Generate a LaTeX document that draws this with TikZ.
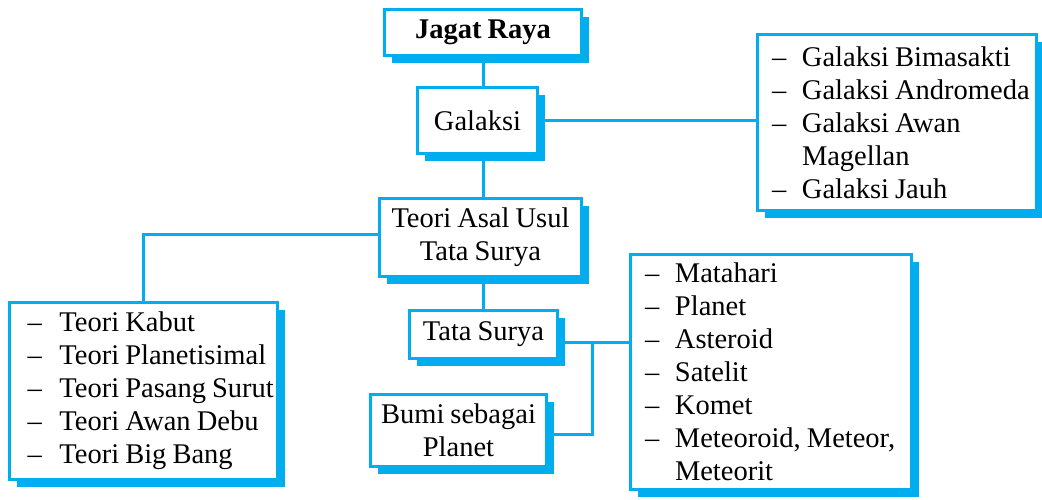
\documentclass[tikz,border=0pt]{standalone}
\usepackage{fontspec}
\setmainfont{Liberation Serif}[WordSpace=0.85]
\usetikzlibrary{shadows}
\definecolor{biru}{HTML}{00AEEF}

\newlength{\kiri}\setlength{\kiri}{14.5pt}
\newlength{\lebar}\setlength{\lebar}{30pt}
\newcommand{\butir}[1]{\hspace*{\kiri}\makebox[\lebar][l]{--}\mbox{#1}}
\newcommand{\sambung}[1]{\hspace*{\kiri}\hspace*{\lebar}\mbox{#1}}

\tikzset{
 kotak/.style={draw=biru, line width=3pt, fill=white, inner sep=0pt, align=center,
   font=\fontsize{28.5}{33}\selectfont,
   drop shadow={shadow xshift=7.5pt, shadow yshift=-7.5pt, fill=biru, opacity=1}},
 daftar/.style={kotak, align=flush left},
 garis/.style={biru, line width=3pt}
}

\begin{document}
\begin{tikzpicture}[x=1pt,y=-1pt]
 \path[use as bounding box, fill=white] (0,0) rectangle (1042,499);

 \node[kotak, minimum width=197pt, minimum height=46pt] (jagat) at (483,32.5) {\textbf{Jagat Raya}};
 \node[kotak, minimum width=120pt, minimum height=66pt] (galaksi) at (477.5,120.5) {Galaksi};
 \node[daftar, text width=279pt, minimum height=176pt] (galaksilist) at (897,122.5)
  {\butir{Galaksi Bimasakti}\\\butir{Galaksi Andromeda}\\\butir{Galaksi Awan}\\\sambung{Magellan}\\\butir{Galaksi Jauh}};
 \node[kotak, minimum width=202pt, minimum height=78pt] (teori) at (480.5,237.5) {Teori Asal Usul\\Tata Surya};
 \node[daftar, text width=268pt, minimum height=177pt,
  execute at begin node={\setlength{\kiri}{18pt}\setlength{\lebar}{32pt}}] (teorilist) at (143.5,391)
  {\butir{Teori Kabut}\\\butir{Teori Planetisimal}\\\butir{Teori Pasang Surut}\\\butir{Teori Awan Debu}\\\butir{Teori Big Bang}};
 \node[kotak, minimum width=148pt, minimum height=48pt] (tata) at (483.5,334.5) {Tata Surya};
 \node[daftar, text width=281pt, minimum height=235pt] (suryalist) at (771,372)
  {\butir{Matahari}\\\butir{Planet}\\\butir{Asteroid}\\\butir{Satelit}\\\butir{Komet}\\\butir{Meteoroid, Meteor,}\\\sambung{Meteorit}};
 \node[kotak, minimum width=176pt, minimum height=72pt] (bumi) at (458.5,430.5) {Bumi sebagai\\Planet};

 \coordinate (cabang) at (592,342);

 % garis penghubung
 \draw[garis] (jagat.south) -- (jagat.south |- galaksi.north);
 \draw[garis] (galaksi.east) -- (galaksi.east -| galaksilist.west);
 \draw[garis] (jagat.south |- galaksi.south) -- (jagat.south |- teori.north);
 \draw[garis] ([yshift=3pt]teori.west) -| (teorilist.north);
 \draw[garis] (jagat.south |- teori.south) -- (jagat.south |- tata.north);
 \draw[garis] (tata.east |- cabang) -- (cabang -| suryalist.west);
 \draw[garis] (cabang) |- ([yshift=-4pt]bumi.east);
\end{tikzpicture}
\end{document}
